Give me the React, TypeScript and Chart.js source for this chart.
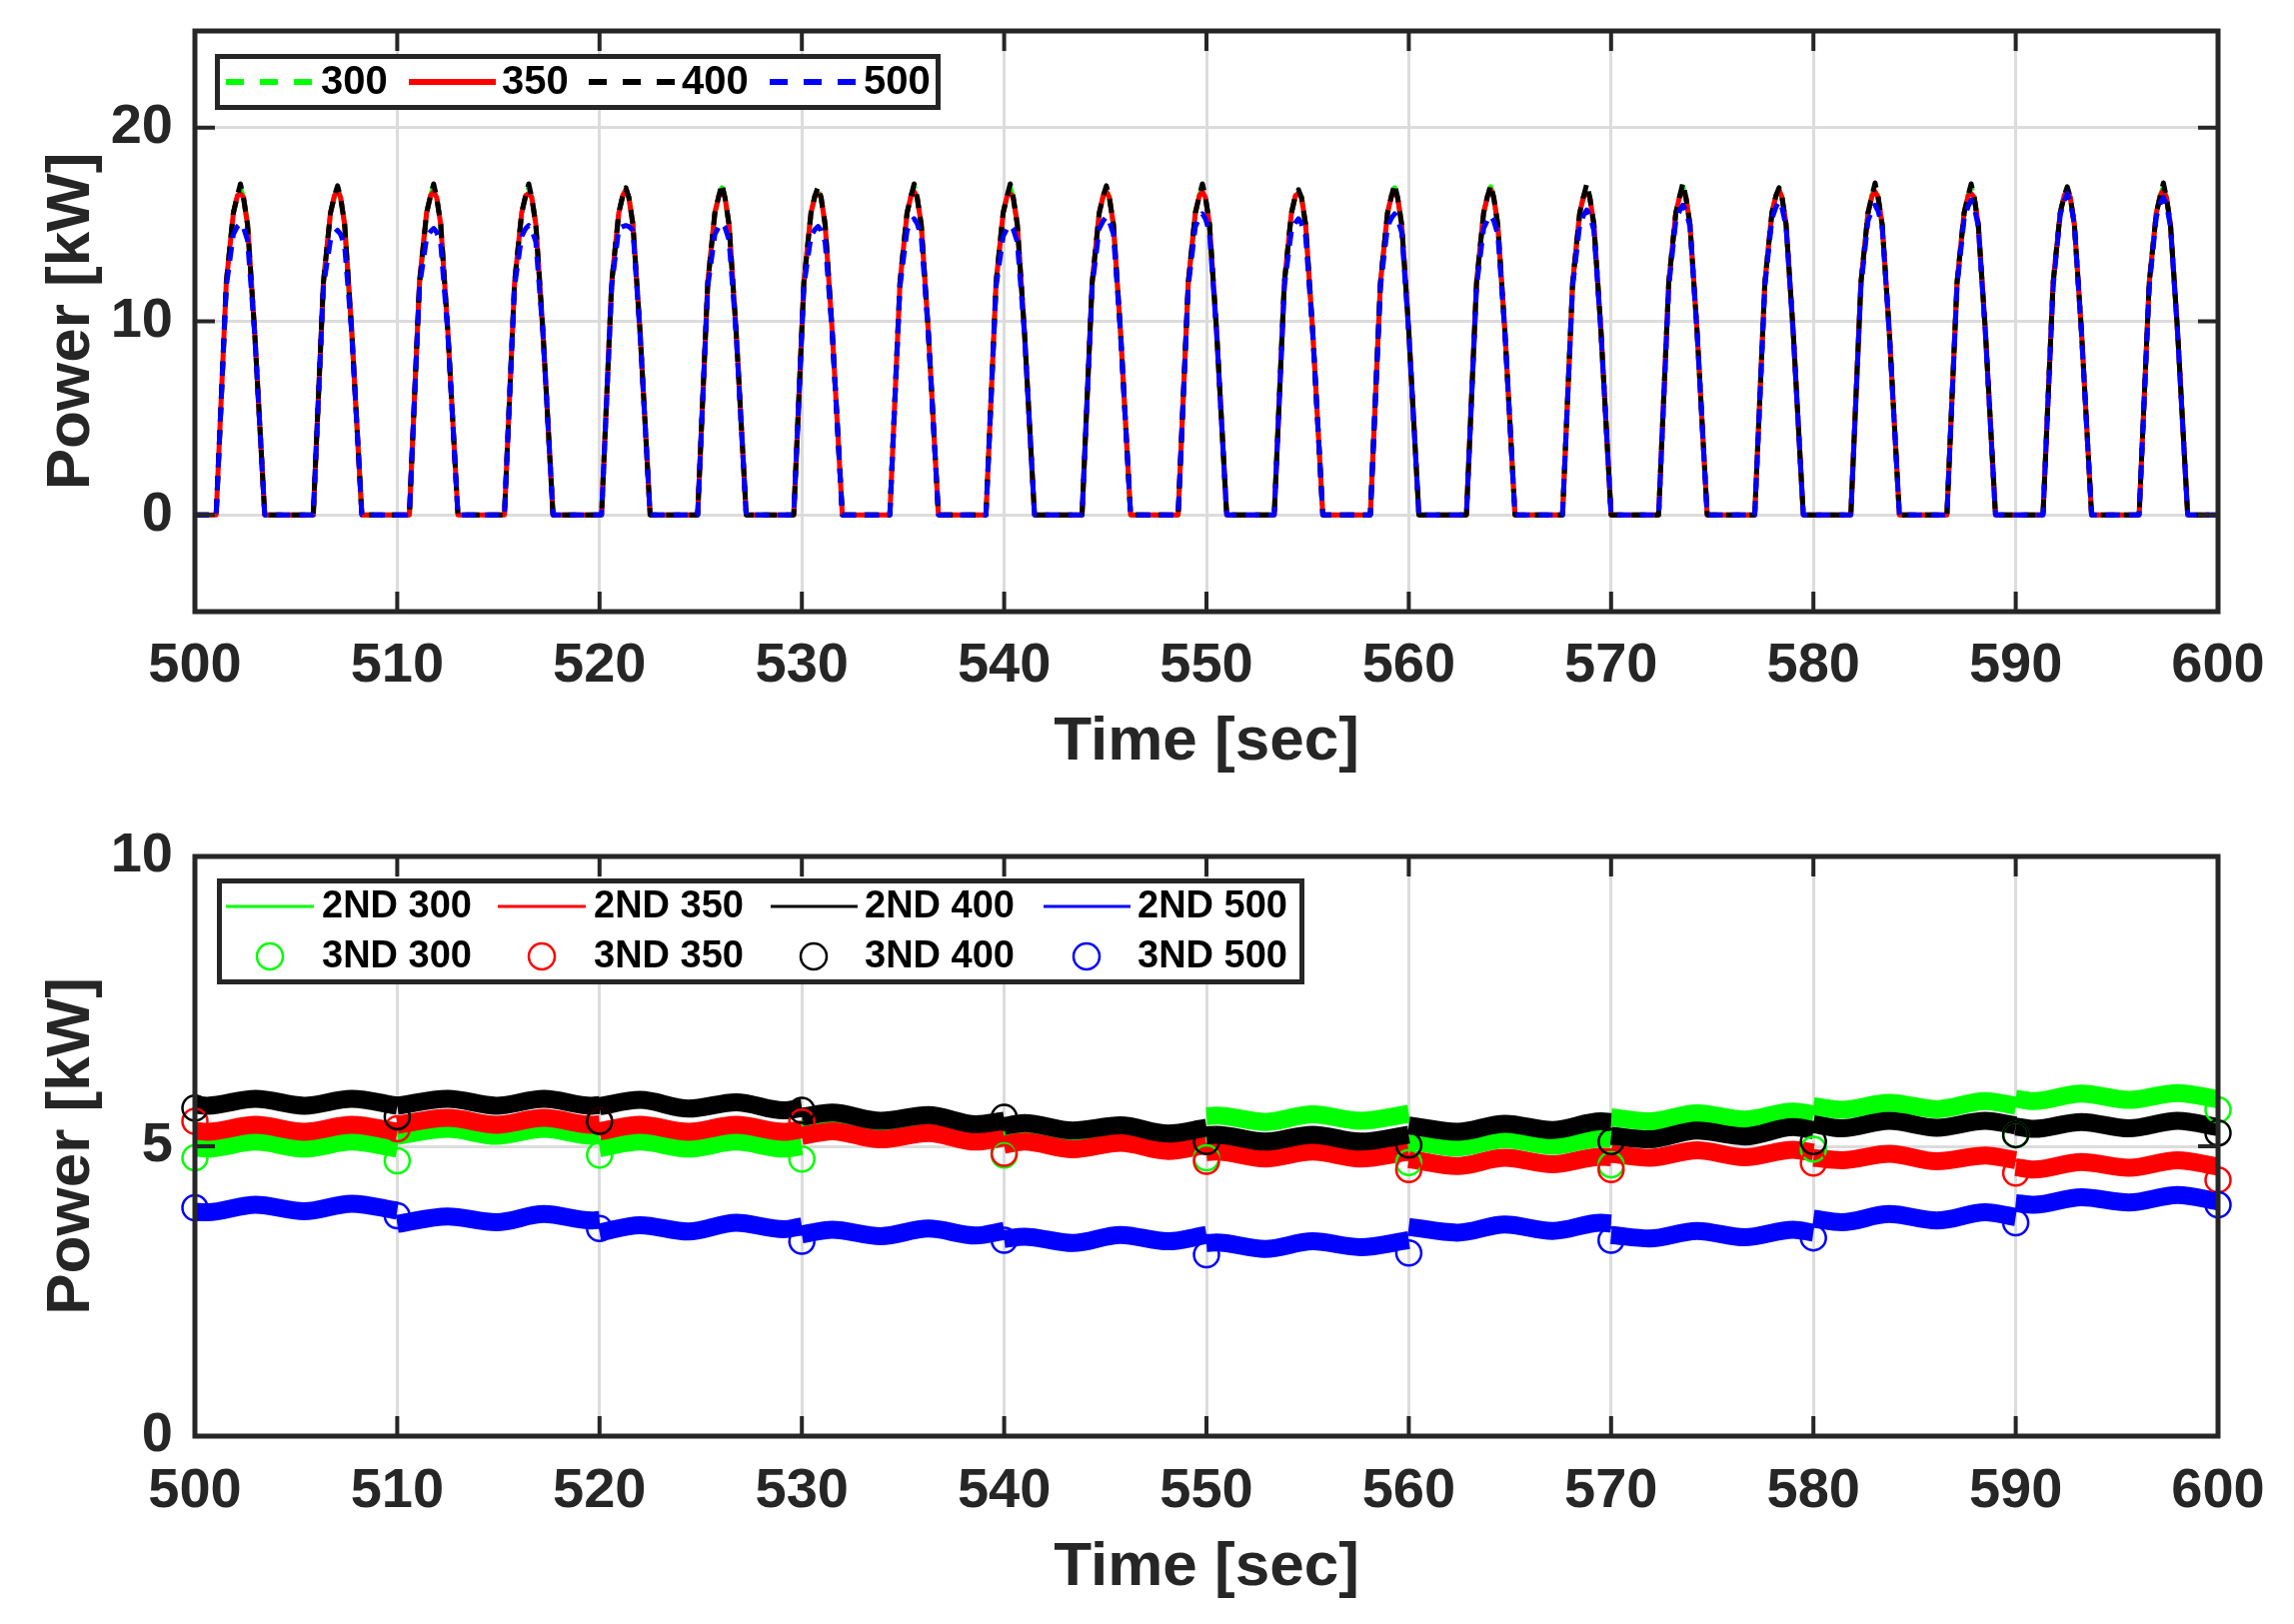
import React, { useEffect, useRef } from 'react';
import { Chart, registerables } from 'chart.js';

Chart.register(...registerables);

const FONT = '"Liberation Sans", Arial, Helvetica, sans-serif';
const AXIS_COLOR = '#262626';
const GRID_COLOR = '#dcdcdc';

const X_TICKS = [500, 510, 520, 530, 540, 550, 560, 570, 580, 590, 600];
const TOP_Y_TICKS = [0, 10, 20];
const BOT_Y_TICKS = [0, 5, 10];
const X_TITLE = 'Time [sec]';
const Y_TITLE = 'Power [kW]';

const SERIES_COLORS = ['#00ff00', '#ff0000', '#000000', '#0000ff'];
const TOP_LABELS = ['300', '350', '400', '500'];
const BOT_LINE_LABELS = ['2ND 300', '2ND 350', '2ND 400', '2ND 500'];
const BOT_MARK_LABELS = ['3ND 300', '3ND 350', '3ND 400', '3ND 500'];

// ---------- top panel: power pulses ----------
const PEAK_TIME = [502.25, 507.05, 511.8, 516.5, 521.3, 526.05, 530.8, 535.55, 540.3, 545.05, 549.8,
  554.55, 559.3, 564.05, 568.8, 573.55, 578.3, 583.05, 587.8, 592.55, 597.3];
// time offsets of the read points of each pulse, relative to its peak
const HUMP_DT = [-1.2, -0.7, -0.35, -0.15, 0, 0.15, 0.35, 0.7, 1.2];
// shared flank values of the 300 / 350 / 400 pulses
const RISE_COMMON = [0, 12.0, 15.6, 16.5];
const FALL_COMMON = [16.4, 15.0, 9.5, 0];

const PEAK_300 = [16.9, 16.8, 16.95, 16.9, 16.8, 16.9, 16.8, 16.95, 16.9, 16.85, 16.95, 16.6, 16.9, 16.95, 16.9, 16.95, 16.8, 16.95, 16.95, 16.8, 16.95];
const PEAK_350 = [16.6, 16.8, 16.7, 16.6, 16.8, 16.7, 16.6, 16.7, 16.6, 16.7, 16.7, 16.6, 16.6, 16.8, 16.6, 16.7, 16.8, 16.7, 16.6, 16.8, 16.8];
const PEAK_400 = [17.1, 17.0, 17.1, 17.1, 16.9, 17.1, 16.95, 17.1, 17.1, 17.0, 17.1, 16.8, 17.1, 17.05, 17.1, 17.15, 16.9, 17.15, 17.1, 16.95, 17.15];

// 500 pulses: lower, flatter tops
const RISE_500 = [0, 11.8];
const FALL_500 = [9.4, 0];
const PEAK_500 = [15.05, 14.7, 14.8, 14.95, 14.95, 15.05, 14.9, 15.3, 14.95, 15.4, 15.55, 15.3, 15.55, 15.45, 15.75, 16.0, 16.2, 16.0, 16.25, 16.6, 16.4];
const UP_500 = [14.5, 14.2, 14.3, 14.4, 14.8, 14.5, 14.4, 14.7, 14.4, 14.8, 14.9, 14.7, 14.9, 14.8, 15.0, 15.2, 15.3, 15.2, 15.3, 15.5, 15.4];
const TIPUP_500 = [14.9, 14.55, 14.65, 14.8, 14.9, 14.9, 14.75, 15.1, 14.8, 15.2, 15.35, 15.1, 15.35, 15.25, 15.5, 15.75, 15.9, 15.75, 15.95, 16.25, 16.1];
const TIPDOWN_500 = [14.85, 14.5, 14.6, 14.75, 14.9, 14.85, 14.7, 15.05, 14.75, 15.15, 15.3, 15.05, 15.3, 15.2, 15.45, 15.7, 15.85, 15.7, 15.9, 16.2, 16.05];
const DOWN_500 = [14.2, 13.9, 14.0, 14.1, 14.7, 14.2, 14.1, 14.4, 14.1, 14.5, 14.6, 14.4, 14.6, 14.5, 14.7, 14.9, 14.9, 14.9, 14.9, 15.0, 14.9];

// ---------- bottom panel: harmonics (6 read points per 10 s block) ----------
const BOT_TIME = [
  500, 500.6, 503.0, 505.4, 507.75, 510,
  510, 512.5, 514.9, 517.25, 519.6, 520,
  520, 522.0, 524.4, 526.75, 529.1, 530,
  530, 531.5, 533.9, 536.25, 538.6, 540,
  540, 541.0, 543.4, 545.75, 548.1, 550,
  550, 550.5, 552.9, 555.25, 557.6, 560,
  560, 562.4, 564.75, 567.1, 569.5, 570,
  570, 571.9, 574.25, 576.6, 579.0, 580,
  580, 581.4, 583.75, 586.1, 588.5, 590,
  590, 590.9, 593.25, 595.6, 598.0, 600,
];
const H2_300 = [
  4.98, 4.96, 5.08, 4.96, 5.08, 4.96,
  5.18, 5.30, 5.18, 5.30, 5.18, 5.19,
  4.97, 5.08, 4.96, 5.08, 4.96, 5.00,
  5.30, 5.38, 5.26, 5.35, 5.22, 5.29,
  5.27, 5.32, 5.19, 5.30, 5.16, 5.27,
  5.52, 5.53, 5.42, 5.55, 5.44, 5.56,
  5.10, 4.98, 5.12, 5.01, 5.14, 5.13,
  5.50, 5.43, 5.57, 5.46, 5.60, 5.55,
  5.69, 5.63, 5.75, 5.64, 5.78, 5.70,
  5.82, 5.78, 5.91, 5.80, 5.92, 5.81,
];
const H2_350 = [
  5.27, 5.25, 5.37, 5.25, 5.37, 5.25,
  5.37, 5.49, 5.37, 5.49, 5.37, 5.38,
  5.26, 5.37, 5.25, 5.37, 5.25, 5.29,
  5.18, 5.26, 5.12, 5.23, 5.08, 5.15,
  5.03, 5.08, 4.95, 5.06, 4.92, 5.03,
  4.90, 4.91, 4.79, 4.91, 4.79, 4.91,
  4.78, 4.66, 4.80, 4.69, 4.82, 4.81,
  4.87, 4.80, 4.93, 4.81, 4.94, 4.89,
  4.80, 4.76, 4.87, 4.74, 4.84, 4.76,
  4.64, 4.60, 4.73, 4.63, 4.76, 4.65,
];
const H2_400 = [
  5.72, 5.70, 5.82, 5.70, 5.82, 5.70,
  5.70, 5.82, 5.70, 5.82, 5.70, 5.71,
  5.69, 5.80, 5.65, 5.76, 5.62, 5.66,
  5.51, 5.58, 5.44, 5.54, 5.38, 5.44,
  5.35, 5.40, 5.27, 5.36, 5.22, 5.32,
  5.19, 5.20, 5.08, 5.20, 5.08, 5.20,
  5.36, 5.25, 5.39, 5.28, 5.43, 5.42,
  5.18, 5.12, 5.27, 5.17, 5.33, 5.28,
  5.38, 5.31, 5.44, 5.32, 5.44, 5.36,
  5.34, 5.30, 5.42, 5.31, 5.44, 5.33,
];
const H2_500 = [
  3.87, 3.86, 3.99, 3.88, 4.01, 3.89,
  3.66, 3.79, 3.69, 3.83, 3.72, 3.73,
  3.51, 3.64, 3.53, 3.68, 3.57, 3.62,
  3.48, 3.56, 3.45, 3.58, 3.46, 3.54,
  3.40, 3.44, 3.33, 3.47, 3.36, 3.47,
  3.33, 3.34, 3.23, 3.36, 3.26, 3.38,
  3.61, 3.51, 3.65, 3.54, 3.68, 3.67,
  3.47, 3.41, 3.54, 3.43, 3.56, 3.51,
  3.75, 3.69, 3.83, 3.72, 3.86, 3.78,
  4.02, 3.99, 4.12, 4.03, 4.16, 4.05,
];
const H3_300 = [4.8, 4.75, 4.85, 4.78, 4.85, 4.8, 4.72, 4.68, 4.95, 5.2, 5.63];
const H3_350 = [5.43, 5.3, 5.43, 5.42, 4.88, 4.74, 4.6, 4.6, 4.71, 4.54, 4.42];
const H3_400 = [5.66, 5.51, 5.43, 5.62, 5.5, 5.08, 5.02, 5.08, 5.08, 5.2, 5.23];
const H3_500 = [3.94, 3.8, 3.58, 3.36, 3.38, 3.13, 3.16, 3.38, 3.42, 3.68, 3.99];

type Pt = { x: number; y: number | null };

function pulsesCommon(peak: number[]): Pt[] {
  const pts: Pt[] = [{ x: 500, y: 0 }];
  PEAK_TIME.forEach((tp, i) => {
    const vals = [...RISE_COMMON, peak[i], ...FALL_COMMON];
    vals.forEach((v, j) => pts.push({ x: tp + HUMP_DT[j], y: v }));
  });
  pts.push({ x: 600, y: 0 });
  return pts;
}

function pulses500(): Pt[] {
  const pts: Pt[] = [{ x: 500, y: 0 }];
  PEAK_TIME.forEach((tp, i) => {
    const vals = [RISE_500[0], RISE_500[1], UP_500[i], TIPUP_500[i], PEAK_500[i], TIPDOWN_500[i], DOWN_500[i], FALL_500[0], FALL_500[1]];
    vals.forEach((v, j) => pts.push({ x: tp + HUMP_DT[j], y: v }));
  });
  pts.push({ x: 600, y: 0 });
  return pts;
}

// blocks of 6 points, separated by a break so each 10 s block is its own smooth piece
function blocks(values: number[]): Pt[] {
  const pts: Pt[] = [];
  BOT_TIME.forEach((t, i) => {
    if (i > 0 && i % 6 === 0) pts.push({ x: t, y: null });
    pts.push({ x: t, y: values[i] });
  });
  return pts;
}

const zip = (xs: number[], ys: number[]): Pt[] => xs.map((x, i) => ({ x, y: ys[i] }));

const matlabAxes = {
  id: 'matlabAxes',
  afterDatasetsDraw(chart: any, _args: any, opts: any) {
    const { ctx, chartArea } = chart;
    const { left, right, top, bottom } = chartArea;
    const xs = chart.scales.x;
    const ys = chart.scales.y;
    ctx.save();
    ctx.setLineDash([]);
    ctx.strokeStyle = AXIS_COLOR;
    ctx.lineWidth = 4;
    ctx.beginPath();
    for (const v of X_TICKS) {
      const px = xs.getPixelForValue(v);
      ctx.moveTo(px, bottom); ctx.lineTo(px, bottom - 20);
      ctx.moveTo(px, top); ctx.lineTo(px, top + 20);
    }
    for (const v of opts.yTicks) {
      const py = ys.getPixelForValue(v);
      ctx.moveTo(left, py); ctx.lineTo(left + 20, py);
      ctx.moveTo(right, py); ctx.lineTo(right - 20, py);
    }
    ctx.stroke();
    ctx.lineWidth = 5;
    ctx.strokeRect(left, top, right - left, bottom - top);

    const lg = opts.legend;
    ctx.fillStyle = '#ffffff';
    ctx.fillRect(lg.x, lg.y, lg.w, lg.h);
    ctx.strokeStyle = AXIS_COLOR;
    ctx.lineWidth = 5;
    ctx.strokeRect(lg.x, lg.y, lg.w, lg.h);
    ctx.font = `bold ${lg.fontSize}px ${FONT}`;
    ctx.textBaseline = 'middle';
    ctx.textAlign = 'left';
    for (const it of lg.items) {
      ctx.strokeStyle = it.color;
      ctx.lineWidth = it.width;
      if (it.kind === 'line') {
        ctx.setLineDash(it.dash);
        ctx.beginPath();
        ctx.moveTo(it.x1, it.y);
        ctx.lineTo(it.x2, it.y);
        ctx.stroke();
        ctx.setLineDash([]);
      } else {
        ctx.beginPath();
        ctx.arc(it.cx, it.y, it.r, 0, Math.PI * 2);
        ctx.stroke();
      }
      ctx.fillStyle = '#000000';
      ctx.fillText(it.text, it.tx, it.y + 1);
    }
    ctx.restore();
  },
};

function baseScales(yMin: number, yMax: number, yTicks: number[], tickPad: number, titlePad: number) {
  const tickFont = { family: FONT, size: 56, weight: 'bold' as const };
  const titleFont = { family: FONT, size: 62, weight: 'bold' as const };
  return {
    x: {
      type: 'linear' as const,
      min: 500,
      max: 600,
      afterBuildTicks: (s: any) => { s.ticks = X_TICKS.map((v) => ({ value: v })); },
      afterFit: (s: any) => { s.height = 188; s.paddingLeft = 0; s.paddingRight = 0; },
      grid: { color: GRID_COLOR, lineWidth: 3, drawTicks: false },
      border: { display: false },
      ticks: { font: tickFont, color: AXIS_COLOR, padding: tickPad, maxRotation: 0, autoSkip: false },
      title: { display: true, text: X_TITLE, font: titleFont, color: AXIS_COLOR, padding: { top: 0, bottom: titlePad } },
    },
    y: {
      type: 'linear' as const,
      min: yMin,
      max: yMax,
      afterBuildTicks: (s: any) => { s.ticks = yTicks.map((v) => ({ value: v })); },
      afterFit: (s: any) => { s.width = 195; s.paddingTop = 0; s.paddingBottom = 0; },
      grid: { color: GRID_COLOR, lineWidth: 3, drawTicks: false },
      border: { display: false },
      ticks: { font: tickFont, color: AXIS_COLOR, padding: 22 },
      title: { display: true, text: Y_TITLE, font: titleFont, color: AXIS_COLOR, padding: { top: 35, bottom: 0 } },
    },
  };
}

function topConfig(): any {
  const dash = [14, 9];
  const series = [pulsesCommon(PEAK_300), pulsesCommon(PEAK_350), pulsesCommon(PEAK_400), pulses500()];
  const dashes = [dash, [], dash, dash];
  const orders = [3, 2, 1, 0];
  const lineX = [[226, 313], [409, 496], [589, 675], [770, 857]];
  const textX = [321, 502, 682, 864];
  return {
    type: 'line',
    data: {
      datasets: series.map((d, i) => ({
        label: TOP_LABELS[i],
        data: d,
        borderColor: SERIES_COLORS[i],
        backgroundColor: SERIES_COLORS[i],
        borderWidth: 5,
        borderDash: dashes[i],
        borderJoinStyle: 'round',
        pointRadius: 0,
        tension: 0,
        fill: false,
        order: orders[i],
      })),
    },
    options: {
      responsive: false,
      animation: false,
      devicePixelRatio: 1,
      events: [],
      layout: { padding: { left: 0, right: 76, top: 31, bottom: 0 } },
      plugins: {
        legend: { display: false },
        tooltip: { enabled: false },
        matlabAxes: {
          yTicks: TOP_Y_TICKS,
          legend: {
            x: 217.5, y: 56.5, w: 721, h: 51, fontSize: 40,
            items: TOP_LABELS.map((t, i) => ({
              kind: 'line', color: SERIES_COLORS[i], width: 6, dash: i === 1 ? [] : [18, 16],
              x1: lineX[i][0], x2: lineX[i][1], y: 82, text: t, tx: textX[i],
            })),
          },
        },
      },
      scales: baseScales(-5, 25, TOP_Y_TICKS, 21, 20),
    },
    plugins: [matlabAxes],
  };
}

function bottomConfig(): any {
  const lines = [H2_300, H2_350, H2_400, H2_500];
  const marks = [H3_300, H3_350, H3_400, H3_500];
  const lineX = [[226, 314], [498, 586], [771, 858], [1044, 1131]];
  const textX = [322, 594, 865, 1138];
  const circX = [270, 542, 814, 1087];
  const lineSets = lines.map((v, i) => ({
    label: BOT_LINE_LABELS[i],
    data: blocks(v),
    borderColor: SERIES_COLORS[i],
    backgroundColor: SERIES_COLORS[i],
    borderWidth: 18,
    borderJoinStyle: 'round',
    borderCapStyle: 'butt',
    cubicInterpolationMode: 'monotone',
    spanGaps: false,
    pointRadius: 0,
    fill: false,
    order: 7 - i,
  }));
  const markSets = marks.map((v, i) => ({
    label: BOT_MARK_LABELS[i],
    data: zip(X_TICKS, v),
    showLine: false,
    borderColor: SERIES_COLORS[i],
    backgroundColor: 'rgba(0,0,0,0)',
    pointStyle: 'circle',
    pointRadius: 12.5,
    pointBorderWidth: 2.5,
    clip: false,
    order: 3 - i,
  }));
  const items: any[] = [];
  BOT_LINE_LABELS.forEach((t, i) => items.push({
    kind: 'line', color: SERIES_COLORS[i], width: 3, dash: [],
    x1: lineX[i][0], x2: lineX[i][1], y: 107, text: t, tx: textX[i],
  }));
  BOT_MARK_LABELS.forEach((t, i) => items.push({
    kind: 'circle', color: SERIES_COLORS[i], width: 2.5, cx: circX[i], r: 13, y: 157, text: t, tx: textX[i],
  }));
  return {
    type: 'line',
    data: { datasets: [...lineSets, ...markSets] },
    options: {
      responsive: false,
      animation: false,
      devicePixelRatio: 1,
      events: [],
      layout: { padding: { left: 0, right: 76, top: 57, bottom: 0 } },
      plugins: {
        legend: { display: false },
        tooltip: { enabled: false },
        matlabAxes: {
          yTicks: BOT_Y_TICKS,
          legend: { x: 219.5, y: 81.5, w: 1083, h: 101, fontSize: 38, items },
        },
      },
      scales: baseScales(0, 10, BOT_Y_TICKS, 22, 19),
    },
    plugins: [matlabAxes],
  };
}

function Panel({ make, top, height }: { make: () => any; top: number; height: number }) {
  const ref = useRef<HTMLCanvasElement>(null);
  useEffect(() => {
    if (!ref.current) return;
    const chart = new Chart(ref.current, make());
    return () => chart.destroy();
  }, []);
  return (
    <canvas
      ref={ref}
      width={2295}
      height={height}
      style={{ position: 'absolute', left: 0, top, width: 2295, height, display: 'block' }}
    />
  );
}

export default function App() {
  return (
    <div style={{ position: 'absolute', left: 0, top: 0, width: 2295, height: 1625, background: '#ffffff', overflow: 'hidden' }}>
      <Panel make={topConfig} top={0} height={800} />
      <Panel make={bottomConfig} top={800} height={825} />
    </div>
  );
}
